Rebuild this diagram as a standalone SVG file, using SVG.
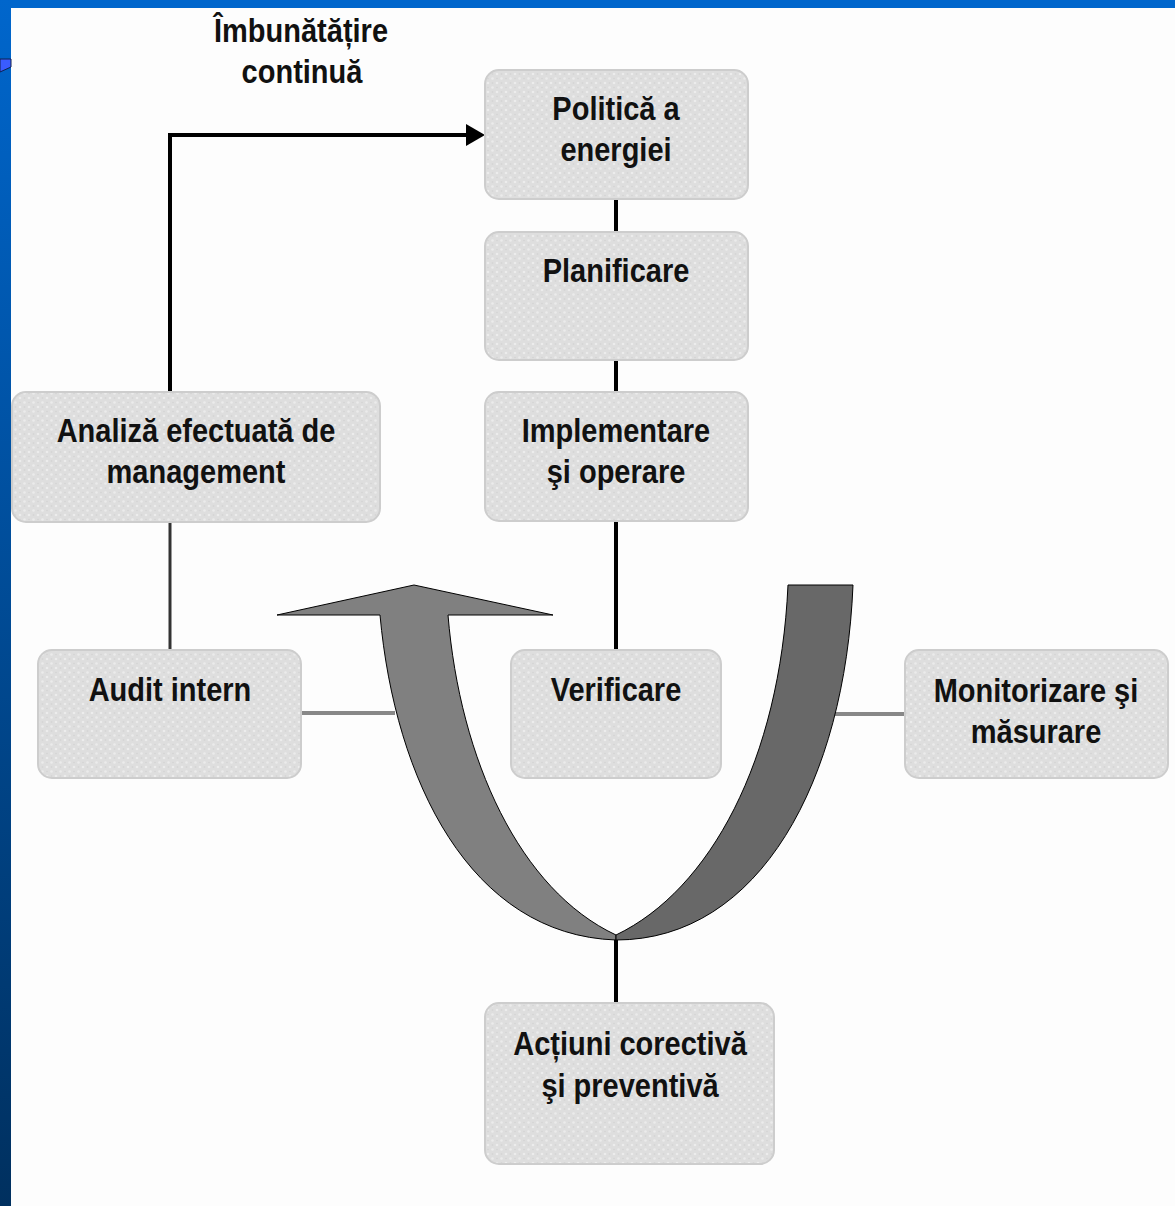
<svg xmlns="http://www.w3.org/2000/svg" width="1175" height="1206" viewBox="0 0 1175 1206">
<style>
.box{fill:url(#tex);stroke:#cdcdcd;stroke-width:2}
.t{font-family:"Liberation Sans",Arial,sans-serif;font-weight:bold;font-size:29px;fill:#111;text-anchor:middle}
.blk{stroke:#000;stroke-width:4;fill:none}
.gry{stroke:#888;stroke-width:4;fill:none}
</style>
<defs>
<linearGradient id="side" x1="0" y1="0" x2="0" y2="1">
<stop offset="0" stop-color="#0066cc"/>
<stop offset="1" stop-color="#00305f"/>
</linearGradient>
<pattern id="tex" width="9" height="9" patternUnits="userSpaceOnUse">
<rect width="9" height="9" fill="#dedede"/>
<circle cx="2" cy="2" r="1.3" fill="#ececec"/>
<circle cx="6.5" cy="6.5" r="1.3" fill="#ebebeb"/>
<circle cx="6.5" cy="2" r="0.8" fill="#d2d2d2"/>
<circle cx="2" cy="6.5" r="0.8" fill="#d3d3d3"/>
</pattern>
</defs>
<rect width="1175" height="1206" fill="#fdfdfd"/>
<rect x="0" y="0" width="1175" height="8" fill="#0066cc"/>
<rect x="0" y="0" width="11" height="1206" fill="url(#side)"/>
<polygon points="0,59 11,59 11,67 0,72" fill="#3a5cff" stroke="#102050" stroke-width="1"/>

<g id="connectors">
<polyline class="blk" points="170,392 170,135 468,135"/>
<polygon points="466,124 485,135 466,146" fill="#000"/>
<line class="blk" x1="616" y1="199" x2="616" y2="232"/>
<line class="blk" x1="616" y1="360" x2="616" y2="392"/>
<line class="blk" x1="616" y1="521" x2="616" y2="650"/>
<line x1="170" y1="521" x2="170" y2="650" stroke="#333" stroke-width="3"/>
<line class="gry" x1="301" y1="713" x2="395" y2="713"/>
<line class="gry" x1="826" y1="714" x2="905" y2="714"/>
<line class="blk" x1="616" y1="935" x2="616" y2="1003"/>
</g>

<g id="cycle">
<path d="M616,940 C470,935 395,780 380,615 L277,615 L414,585 L553,615 L448,615 C460,760 520,890 616,935 Z" fill="#808080" stroke="#000" stroke-width="1"/>
<path d="M616,935 C710,890 780,760 788,585 L853,585 C845,780 760,940 616,940 Z" fill="#686868" stroke="#000" stroke-width="1"/>
</g>

<g id="label-imbunatatire">
<text class="t" transform="translate(301,42) scale(1,1.15)">Îmbunătățire</text>
<text class="t" transform="translate(302,83) scale(1,1.15)">continuă</text>
</g>

<g id="node-politica">
<rect class="box" x="485" y="70" width="263" height="129" rx="14"/>
<text class="t" transform="translate(616,120) scale(1,1.17)">Politică a</text>
<text class="t" transform="translate(616,161) scale(1,1.17)">energiei</text>
</g>

<g id="node-planificare">
<rect class="box" x="485" y="232" width="263" height="128" rx="14"/>
<text class="t" transform="translate(616,282) scale(1,1.17)">Planificare</text>
</g>

<g id="node-implementare">
<rect class="box" x="485" y="392" width="263" height="129" rx="14"/>
<text class="t" transform="translate(616,442) scale(1,1.17)">Implementare</text>
<text class="t" transform="translate(616,483) scale(1,1.17)">şi operare</text>
</g>

<g id="node-analiza">
<rect class="box" x="12" y="392" width="368" height="130" rx="14"/>
<text class="t" transform="translate(196,442) scale(1,1.17)">Analiză efectuată de</text>
<text class="t" transform="translate(196,483) scale(1,1.17)">management</text>
</g>

<g id="node-audit">
<rect class="box" x="38" y="650" width="263" height="128" rx="14"/>
<text class="t" transform="translate(170,701) scale(1,1.17)">Audit intern</text>
</g>

<g id="node-verificare">
<rect class="box" x="511" y="650" width="210" height="128" rx="14"/>
<text class="t" transform="translate(616,701) scale(1,1.17)">Verificare</text>
</g>

<g id="node-monitorizare">
<rect class="box" x="905" y="650" width="263" height="128" rx="14"/>
<text class="t" transform="translate(1036,702) scale(1,1.17)">Monitorizare şi</text>
<text class="t" transform="translate(1036,743) scale(1,1.17)">măsurare</text>
</g>

<g id="node-actiuni">
<rect class="box" x="485" y="1003" width="289" height="161" rx="14"/>
<text class="t" transform="translate(630,1055) scale(1,1.17)">Acțiuni corectivă</text>
<text class="t" transform="translate(630,1097) scale(1,1.17)">şi preventivă</text>
</g>
</svg>
